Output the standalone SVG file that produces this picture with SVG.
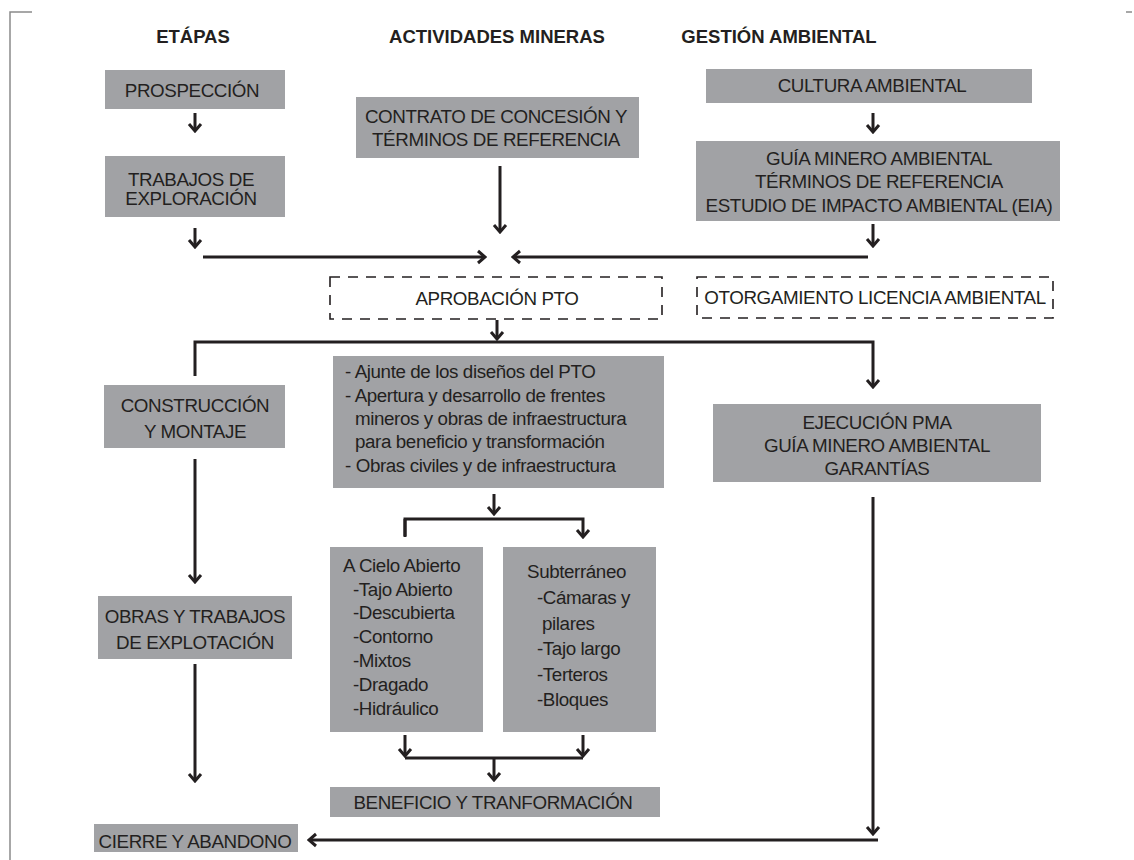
<svg xmlns="http://www.w3.org/2000/svg" width="1134" height="860" viewBox="0 0 1134 860">
<style>
.bg{fill:#ffffff}
.box{fill:#a1a2a5}
.dash{fill:none;stroke:#231f20;stroke-width:1.6;stroke-dasharray:10 8}
.t{font-family:"Liberation Sans",Arial,sans-serif;font-size:18.8px;fill:#231f20;letter-spacing:-0.4px}
.c{text-anchor:middle}
.h{font-family:"Liberation Sans",Arial,sans-serif;font-size:18.5px;font-weight:bold;fill:#231f20;text-anchor:middle}
.ln{fill:none;stroke:#231f20;stroke-width:3}
.ar{fill:none;stroke:#231f20;stroke-width:3;marker-end:url(#ah)}
.frame{fill:none;stroke:#8a8a8a;stroke-width:1.5}
</style>
<defs>
<marker id="ah" markerUnits="userSpaceOnUse" viewBox="-10 -8 12 16" refX="0" refY="0" markerWidth="12" markerHeight="16" orient="auto">
<path d="M-7,-6 L0,0 L-7,6" fill="none" stroke="#231f20" stroke-width="3"/>
</marker>
</defs>
<rect class="bg" x="0" y="0" width="1134" height="860"/>
<g id="frame">
<path class="frame" d="M32,12 L10,12 L10,860"/>
<path class="frame" d="M1126,12 L1132,12"/>
</g>
<g id="headers">
<text class="h" x="193" y="43">ETÁPAS</text>
<text class="h" x="497" y="43">ACTIVIDADES MINERAS</text>
<text class="h" x="779" y="43">GESTIÓN AMBIENTAL</text>
</g>
<g id="prospeccion"><rect class="box" x="105" y="70" width="180" height="39"/><text class="t c" x="192" y="97">PROSPECCIÓN</text></g>
<g id="exploracion"><rect class="box" x="105" y="156" width="180" height="61"/><text class="t c" x="191" y="186">TRABAJOS DE</text><text class="t c" x="191" y="205">EXPLORACIÓN</text></g>
<g id="contrato"><rect class="box" x="356" y="97" width="283" height="61"/><text class="t c" x="496" y="123">CONTRATO DE CONCESIÓN Y</text><text class="t c" x="496" y="146">TÉRMINOS DE REFERENCIA</text></g>
<g id="cultura"><rect class="box" x="706" y="69" width="326" height="34"/><text class="t c" x="872" y="92">CULTURA AMBIENTAL</text></g>
<g id="guia"><rect class="box" x="696" y="141" width="364" height="80"/><text class="t c" x="879" y="165">GUÍA MINERO AMBIENTAL</text><text class="t c" x="879" y="188">TÉRMINOS DE REFERENCIA</text><text class="t c" x="879" y="212">ESTUDIO DE IMPACTO AMBIENTAL (EIA)</text></g>
<g id="pto"><rect class="dash" x="330" y="277" width="332" height="42"/><text class="t c" x="497" y="305">APROBACIÓN PTO</text></g>
<g id="licencia"><rect class="dash" x="697" y="277" width="356" height="41"/><text class="t c" x="875" y="304">OTORGAMIENTO LICENCIA AMBIENTAL</text></g>
<g id="construccion"><rect class="box" x="104" y="385" width="181" height="63"/><text class="t c" x="195" y="412">CONSTRUCCIÓN</text><text class="t c" x="195" y="438">Y MONTAJE</text></g>
<g id="ajuste"><rect class="box" x="333" y="356" width="331" height="132"/>
<text class="t" x="345" y="378">- Ajunte de los diseños del PTO</text>
<text class="t" x="345" y="402">- Apertura y desarrollo de frentes</text>
<text class="t" x="355" y="425">mineros y obras de infraestructura</text>
<text class="t" x="355" y="448">para beneficio y transformación</text>
<text class="t" x="345" y="472">- Obras civiles y de infraestructura</text>
</g>
<g id="ejecucion"><rect class="box" x="713" y="404" width="328" height="78"/><text class="t c" x="877" y="429">EJECUCIÓN PMA</text><text class="t c" x="877" y="452">GUÍA MINERO AMBIENTAL</text><text class="t c" x="877" y="475">GARANTÍAS</text></g>
<g id="cielo"><rect class="box" x="330" y="547" width="153" height="185"/>
<text class="t" x="343" y="572">A Cielo Abierto</text>
<text class="t" x="353" y="596">-Tajo Abierto</text>
<text class="t" x="353" y="619">-Descubierta</text>
<text class="t" x="353" y="643">-Contorno</text>
<text class="t" x="353" y="667">-Mixtos</text>
<text class="t" x="353" y="691">-Dragado</text>
<text class="t" x="353" y="715">-Hidráulico</text>
</g>
<g id="subterraneo"><rect class="box" x="503" y="547" width="153" height="185"/>
<text class="t" x="527" y="578">Subterráneo</text>
<text class="t" x="537" y="604">-Cámaras y</text>
<text class="t" x="542" y="630">pilares</text>
<text class="t" x="537" y="655">-Tajo largo</text>
<text class="t" x="537" y="681">-Terteros</text>
<text class="t" x="537" y="706">-Bloques</text>
</g>
<g id="obras"><rect class="box" x="98" y="596" width="194" height="63"/><text class="t c" x="195" y="623">OBRAS Y TRABAJOS</text><text class="t c" x="195" y="649">DE EXPLOTACIÓN</text></g>
<g id="beneficio"><rect class="box" x="330" y="787" width="330" height="30"/><text class="t c" x="493" y="809">BENEFICIO Y TRANFORMACIÓN</text></g>
<g id="cierre"><rect class="box" x="94" y="824" width="204" height="28"/><text class="t c" x="195" y="848">CIERRE Y ABANDONO</text></g>
<g id="connectors">
<path class="ar" d="M195,113 L195,131"/>
<path class="ar" d="M195,228 L195,247"/>
<path class="ar" d="M203,257 L485,257"/>
<path class="ar" d="M500,166 L500,232"/>
<path class="ar" d="M868,257 L513,257"/>
<path class="ar" d="M873,113 L873,132"/>
<path class="ar" d="M873,224 L873,246"/>
<path class="ar" d="M497,320 L497,339"/>
<path class="ar" d="M195,376 L195,342 L873,342 L873,387"/>
<path class="ar" d="M195,459 L195,582"/>
<path class="ar" d="M195,664 L195,781"/>
<path class="ar" d="M494,494 L494,514"/>
<path class="ar" d="M405,537 L405,519 L583,519 L583,537"/>
<path class="ln" d="M405,519 L405,536"/>
<path class="ar" d="M405,735 L405,756"/>
<path class="ar" d="M583,735 L583,756"/>
<path class="ln" d="M405,758 L583,758"/>
<path class="ar" d="M494,758 L494,780"/>
<path class="ar" d="M873,497 L873,834"/>
<path class="ar" d="M878,840 L309,840"/>
</g>
</svg>
